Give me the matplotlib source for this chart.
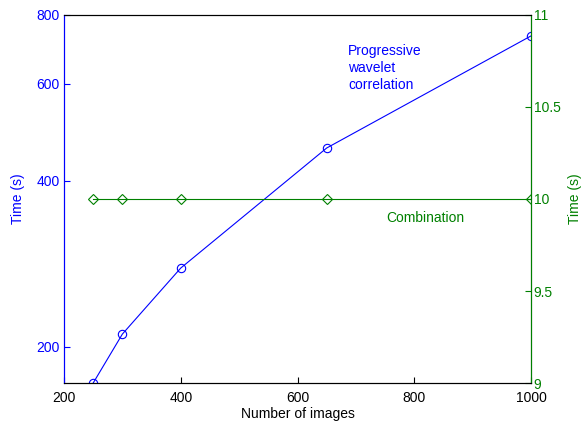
import matplotlib.pyplot as plt
from matplotlib.ticker import FixedLocator, NullLocator, FixedFormatter

plt.rcParams['font.family'] = ['Liberation Sans', 'DejaVu Sans']

# Данные
n_images = [250, 300, 400, 650, 1000]
wavelet_time = [172, 211, 278, 459, 733]
combination_time = [10, 10, 10, 10, 10]

blue = (0, 0, 1)
green = (0, 0.5, 0)
fs = 10

fig = plt.figure(figsize=(5.85, 4.22), dpi=100)
ax1 = fig.add_axes([0.1094, 0.0924, 0.7983, 0.8721])
ax1.plot(n_images, wavelet_time, color=blue, lw=0.8, marker='o', ms=6,
         mfc='none', mec=blue, mew=0.8)
ax1.set_yscale('log')
ax1.set_xlim(200, 1000)
ax1.set_ylim(172, 800)
ax1.yaxis.set_major_locator(FixedLocator([200, 400, 600, 800]))
ax1.yaxis.set_major_formatter(FixedFormatter(['200', '400', '600', '800']))
ax1.yaxis.set_minor_locator(NullLocator())
ax1.set_xticks([200, 400, 600, 800, 1000])
ax1.tick_params(axis='both', direction='in', labelsize=fs, length=4, width=0.8)
ax1.tick_params(axis='y', colors=blue, right=True, pad=3)
ax1.tick_params(axis='x', colors='black', top=False, pad=6)
ax1.spines['left'].set_color(blue)
ax1.set_ylabel('Time (s)', color=blue, fontsize=fs, labelpad=8)
ax1.set_xlabel('Number of images', fontsize=fs, labelpad=1)

ax2 = ax1.twinx()
ax2.plot(n_images, combination_time, color=green, lw=0.8, marker='D', ms=5,
         mfc='none', mec=green, mew=0.8)
ax2.set_ylim(9, 11)
ax2.set_yticks([9, 9.5, 10, 10.5, 11])
ax2.set_yticklabels(['9', '9.5', '10', '10.5', '11'])
ax2.tick_params(axis='y', direction='in', colors=green, labelsize=fs, length=4, width=0.8, pad=2)
ax2.spines['right'].set_color(green)
ax2.spines['left'].set_color(blue)
ax2.set_ylabel('Time (s)', color=green, fontsize=fs, labelpad=5)

ax1.text(0.608, 0.922, 'Progressive\nwavelet\ncorrelation', transform=ax1.transAxes,
         color=blue, fontsize=fs, va='top', ha='left', linespacing=1.3)
ax2.text(0.69, 0.448, 'Combination', transform=ax1.transAxes,
         color=green, fontsize=fs, va='center', ha='left')

plt.savefig('out.png', dpi=100)
